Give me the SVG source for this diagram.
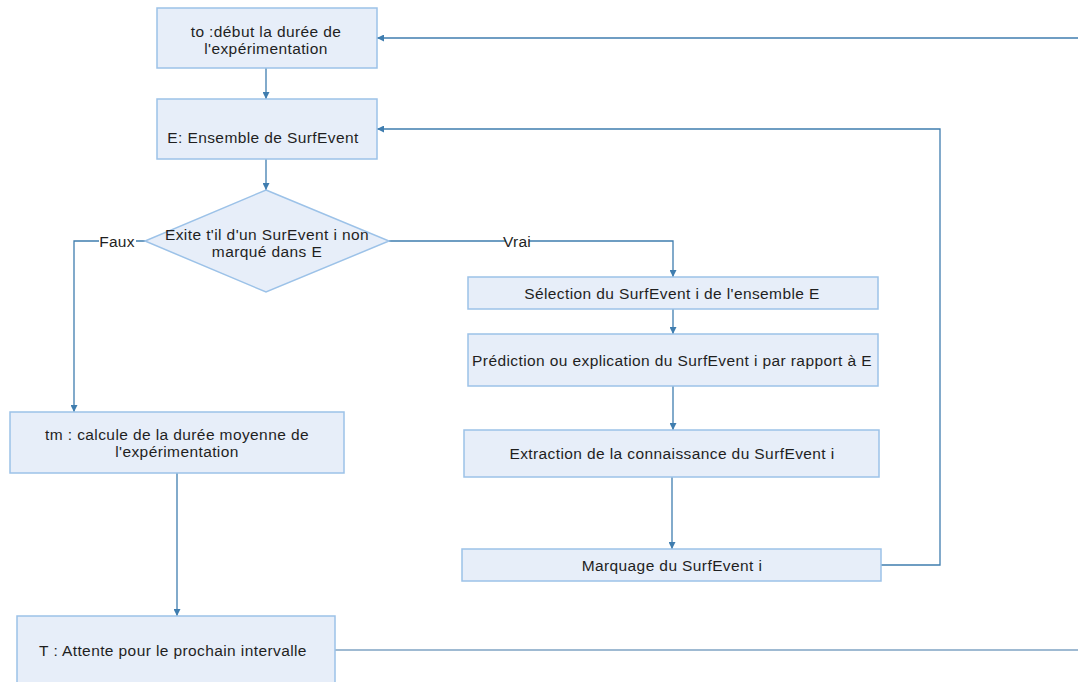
<svg xmlns="http://www.w3.org/2000/svg" width="1078" height="682" viewBox="0 0 1078 682">
<style>
.box{fill:#e7eef9;stroke:#9cc2e8;stroke-width:1.5}
.t{font-family:"Liberation Sans",Arial,sans-serif;font-size:15.5px;letter-spacing:0.4px;fill:#1f1f1f;text-anchor:middle}
.c{fill:none;stroke:#3f7daf;stroke-width:1.3}
.lbl{font-family:"Liberation Sans",Arial,sans-serif;font-size:15.5px;letter-spacing:0.2px;fill:#1f1f1f;text-anchor:middle}
</style>
<defs>
<marker id="ah" viewBox="0 0 10 10" refX="10" refY="5" markerWidth="7" markerHeight="7" markerUnits="userSpaceOnUse" orient="auto">
<path d="M0,0 L10,5 L0,10 z" fill="#3f7daf"/>
</marker>
</defs>
<rect width="1078" height="682" fill="#ffffff"/>
<g id="connectors">
<path class="c" d="M266,68 V99" marker-end="url(#ah)"/>
<path class="c" d="M266,159 V190" marker-end="url(#ah)"/>
<path class="c" d="M145,241 H74 V412" marker-end="url(#ah)"/>
<path class="c" d="M389,241 H673 V277" marker-end="url(#ah)"/>
<path class="c" d="M673,309 V334" marker-end="url(#ah)"/>
<path class="c" d="M673,386 V430" marker-end="url(#ah)"/>
<path class="c" d="M672,477 V549" marker-end="url(#ah)"/>
<path class="c" d="M881,565 H940 V129 H377" marker-end="url(#ah)"/>
<path class="c" d="M177,473 V616" marker-end="url(#ah)"/>
<path class="c" d="M335,650 H1078" style="stroke:#7fa3c3;stroke-width:1.6"/>
<path class="c" d="M1078,38 H377" marker-end="url(#ah)"/>
<rect x="99" y="233" width="37" height="16" fill="#ffffff"/>
<text class="lbl" x="117" y="247">Faux</text>
<rect x="506" y="233" width="23" height="16" fill="#ffffff"/>
<text class="lbl" x="517" y="247">Vrai</text>
</g>
<g id="n_to">
<rect class="box" x="157" y="8" width="220" height="60"/>
<text class="t" x="266" y="37">to :début la durée de</text>
<text class="t" x="266" y="54">l'expérimentation</text>
</g>
<g id="n_E">
<rect class="box" x="157" y="99" width="220" height="60"/>
<text class="t" x="263" y="143">E: Ensemble de SurfEvent</text>
</g>
<g id="n_decision">
<polygon class="box" points="266,190 389,241 266,292 145,241"/>
<text class="t" x="267" y="240">Exite t'il d'un SurEvent i non</text>
<text class="t" x="267" y="257">marqué dans E</text>
</g>
<g id="n_selection">
<rect class="box" x="468" y="277" width="410" height="32"/>
<text class="t" x="672" y="299">Sélection du SurfEvent i de l'ensemble E</text>
</g>
<g id="n_prediction">
<rect class="box" x="468" y="334" width="410" height="52"/>
<text class="t" x="672" y="366">Prédiction ou explication du SurfEvent i par rapport à E</text>
</g>
<g id="n_extraction">
<rect class="box" x="464" y="430" width="415" height="47"/>
<text class="t" x="672" y="459">Extraction de la connaissance du SurfEvent i</text>
</g>
<g id="n_marquage">
<rect class="box" x="462" y="549" width="419" height="32"/>
<text class="t" x="672" y="571">Marquage du SurfEvent i</text>
</g>
<g id="n_tm">
<rect class="box" x="10" y="412" width="334" height="61"/>
<text class="t" x="177" y="440">tm : calcule de la durée moyenne de</text>
<text class="t" x="177" y="457">l'expérimentation</text>
</g>
<g id="n_T">
<rect class="box" x="17" y="616" width="318" height="80"/>
<text class="t" x="173" y="656">T : Attente pour le prochain intervalle</text>
</g>
</svg>
